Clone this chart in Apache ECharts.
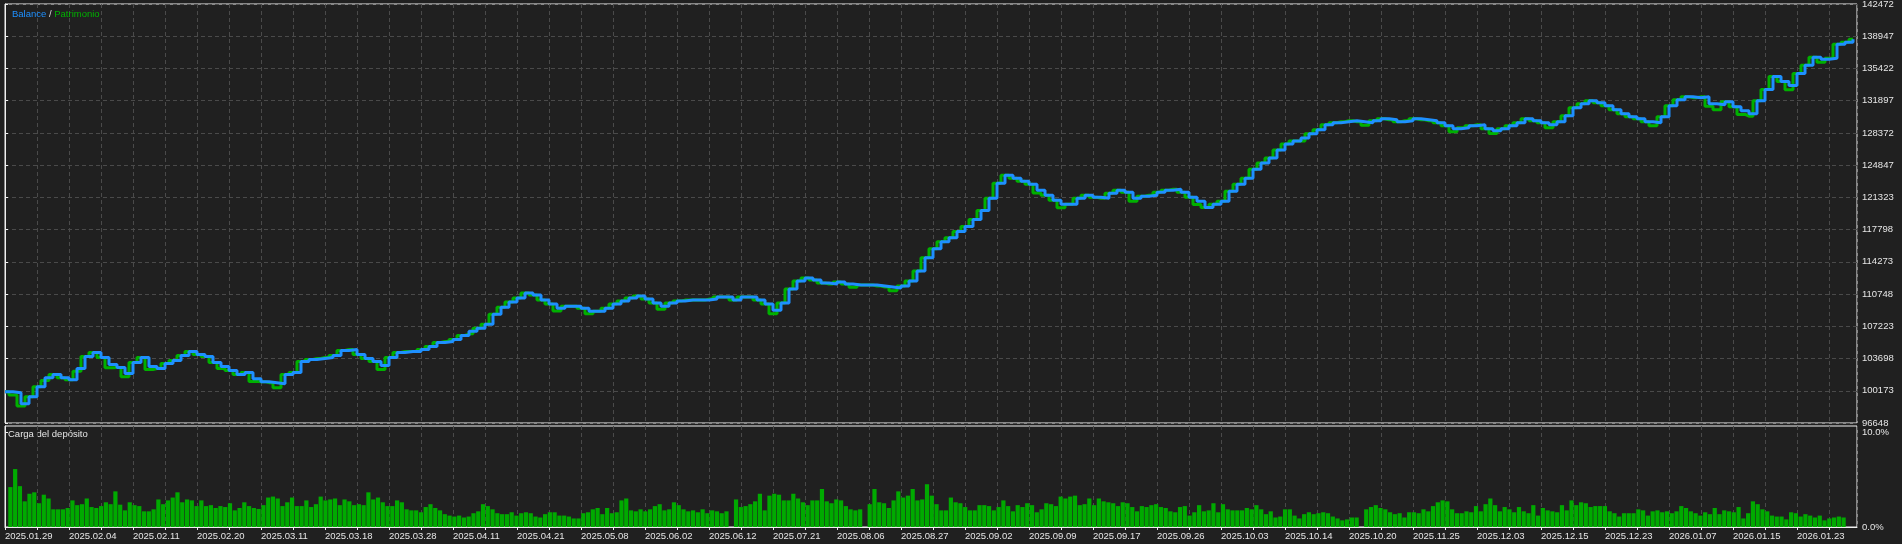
<!DOCTYPE html>
<html>
<head>
<meta charset="utf-8">
<script src="https://cdn.jsdelivr.net/npm/echarts@6.0.0/dist/echarts.min.js"></script>
<style>
html,body{margin:0;padding:0;background:#202020;}
#chart{width:1902px;height:544px;}
</style>
</head>
<body>
<div id="chart"></div>
<script>
// ---------- DATA ----------
const dateLabels = ['2025.01.29','2025.02.04','2025.02.11','2025.02.20','2025.03.11','2025.03.18','2025.03.28','2025.04.11','2025.04.21','2025.05.08','2025.06.02','2025.06.12','2025.07.21','2025.08.06','2025.08.27','2025.09.02','2025.09.09','2025.09.17','2025.09.26','2025.10.03','2025.10.14','2025.10.20','2025.11.25','2025.12.03','2025.12.15','2025.12.23','2026.01.07','2026.01.15','2026.01.23'];

const yTickLabels = ['96648','100173','103698','107223','110748','114273','117798','121323','124847','128372','131897','135422','138947','142472'];
const loadTickLabels = ['0.0%','10.0%'];

const balance = [100060,99950,98740,99510,100610,101610,101940,101610,101390,102600,
103920,104360,103810,103040,102710,102050,103260,103810,102820,102600,
103150,103480,104030,104470,104140,103920,103260,102820,102380,101940,
102160,101500,101170,101060,100950,101940,102160,103370,103590,103700,
103810,104030,104580,104690,104140,103700,103370,102930,103810,104360,
104470,104470,104690,105020,105460,105570,105790,106230,106670,107000,
107440,108550,109320,109870,110310,110860,110640,110090,109650,109210,
109430,109430,109210,108880,108880,109210,109650,109980,110310,110530,
110200,109760,109430,109760,109980,110090,110090,110090,110200,110420,
110420,110090,110420,110420,110090,109650,108990,109760,111300,112180,
112510,112290,111960,111850,112070,111850,111740,111740,111740,111630,
111520,111410,111630,112180,113280,114720,115710,116480,116920,117580,
118130,118900,119900,121220,122870,123750,123420,123090,122760,122100,
121550,121000,120560,120560,121220,121550,121330,121220,121770,122100,
121880,121220,121440,121550,121880,122100,122210,121880,121330,120890,
120220,120560,120890,121990,122760,123420,124410,125070,125620,126500,
127160,127500,127830,128270,128720,129260,129480,129590,129700,129590,
129480,129700,129920,129810,129590,129700,129920,129810,129700,129480,
129150,128820,128930,129150,129260,128820,128600,128820,129150,129480,
129920,129700,129480,129260,129590,130250,131130,131570,131900,131680,
131350,130910,130470,130140,129920,129590,129480,130140,131350,132010,
132340,132230,132340,131570,131460,131790,131240,130800,130470,131900,
133110,134540,133990,133550,134870,135760,136640,136420,136530,138070,
138290,138620];

const equity = [100060,99700,98500,99510,100610,101300,101940,101610,101390,102300,
103920,104360,103810,102700,102710,101700,103260,103810,102500,102600,
103150,103480,104030,104470,104140,103920,103260,102600,102380,101940,
102160,101200,101170,101060,100500,101940,102160,103370,103590,103700,
103810,104030,104580,104690,104140,103700,103370,102500,103810,104360,
104470,104470,104690,105020,105460,105570,105790,106230,106400,107000,
107440,108550,109320,109870,110310,110860,110640,110090,109650,108900,
109430,109430,109210,108600,108880,109210,109650,109980,110310,110530,
110200,109760,109100,109760,109980,110090,110090,110090,110200,110420,
110420,110090,110420,110420,110090,109650,108600,109760,111300,112180,
112510,112290,111960,111850,112070,111850,111500,111740,111740,111630,
111520,111100,111630,112180,113280,114720,115710,116480,116920,117580,
118130,118900,119900,121220,122870,123750,123420,123090,122760,121800,
121550,121000,120200,120560,121220,121550,121330,121220,121770,122100,
121880,120900,121440,121550,121880,122100,122210,121880,121330,120550,
120220,120560,120890,121990,122760,123420,124410,125070,125620,126500,
127160,127500,127500,128270,128720,129260,129480,129590,129700,129590,
129200,129700,129920,129810,129590,129700,129920,129810,129700,129480,
129150,128500,128930,129150,129260,128820,128300,128820,129150,129480,
129920,129700,129480,128950,129590,130250,131130,131570,131900,131680,
131350,130910,130470,130140,129920,129590,129150,130140,131350,132010,
132340,132230,132340,131300,130900,131790,131240,130400,130200,131900,
133110,134540,133990,133100,134870,135760,136640,136100,136530,138070,
138290,138620];

const depositLoad = [
4.2,6.1,4.3,2.7,3.5,3.65,2.5,3.4,3.0,1.86,1.86,1.86,2.0,2.8,2.3,2.4,3.0,2.1,2.0,2.2,
2.6,2.4,3.75,2.35,1.75,2.6,2.3,2.2,1.65,1.65,1.86,2.9,2.4,2.8,3.1,3.65,2.6,2.9,2.8,2.2,
2.8,2.2,2.3,2.0,2.2,2.1,2.5,1.75,2.0,2.6,2.2,2.0,1.9,2.3,3.1,3.2,3.0,2.2,2.6,3.1,
2.2,2.2,2.8,2.1,2.4,3.2,2.8,2.9,3.0,2.3,2.9,2.7,2.3,2.4,2.3,3.65,2.9,3.1,2.6,2.2,
2.2,2.8,2.6,1.86,1.75,1.75,1.55,2.1,2.4,2.0,1.75,1.35,1.2,1.1,1.2,1.0,1.1,
1.45,1.65,2.4,2.2,1.86,1.45,1.35,1.35,1.55,1.2,1.45,1.55,1.45,1.1,1.0,1.35,1.55,1.55,1.2,1.2,
1.1,0.9,0.9,1.45,1.55,1.86,2.0,1.35,2.0,1.45,1.55,2.8,3.0,1.75,1.65,1.86,1.65,1.86,2.2,2.4,
1.75,1.86,2.6,2.3,1.86,1.65,1.75,1.55,1.86,1.45,1.75,1.65,1.45,1.65,0,2.9,2.1,2.2,2.4,2.7,
3.5,1.75,3.3,3.5,3.4,2.8,2.8,3.5,3.0,2.6,2.3,2.8,2.8,4.0,2.7,2.5,2.9,2.8,2.2,1.86,
1.75,1.86,0,2.4,4.0,2.6,2.5,2.0,2.8,3.75,3.1,3.3,4.0,2.8,2.9,4.5,3.3,2.4,
1.75,1.75,3.1,2.6,2.5,2.1,1.75,1.75,2.3,2.3,2.2,1.75,2.1,2.8,2.2,1.65,2.3,2.1,2.5,2.3,
1.55,1.86,2.5,2.4,2.2,3.2,3.0,3.2,3.3,2.3,2.4,3.0,2.3,3.0,2.7,2.6,2.5,2.2,2.6,2.5,
2.1,1.65,2.2,2.1,2.3,2.4,2.1,2.0,1.65,1.55,2.1,2.2,1.2,1.55,2.3,1.65,1.75,2.5,1.55,2.4,
1.86,1.75,1.75,1.75,2.0,1.86,2.3,1.86,1.35,1.65,1.0,1.1,1.86,1.86,1.2,0.9,1.35,1.55,1.35,1.45,
1.55,1.45,1.1,0.9,0.7,0.8,1.0,1.0,0,1.86,2.1,2.3,2.0,1.86,1.55,1.35,1.45,
1.0,1.55,1.55,1.45,1.86,1.65,2.2,2.6,2.8,2.7,1.86,1.45,1.45,1.65,1.55,2.2,1.65,2.4,3.0,2.3,
1.65,2.1,1.86,1.55,2.1,1.65,1.45,2.3,1.2,2.0,1.75,1.65,1.55,2.3,1.75,2.8,2.3,2.6,2.5,2.1,
2.2,2.2,2.2,1.65,1.45,1.1,1.45,1.45,1.45,1.86,1.75,1.2,1.65,1.75,1.55,1.65,1.45,1.65,2.2,2.0,
1.65,1.45,1.2,1.55,1.35,2.0,1.35,1.75,1.65,1.55,2.1,0.9,1.45,2.7,2.4,1.86,1.65,1.2,1.1,1.1,
0.8,1.55,1.45,1.1,1.35,1.2,1.0,1.2,0.7,0.9,1.0,1.1,1.0];

// ---------- CHART ----------
const yMin = 96648, yMax = 142472, yStep = (yMax - yMin) / 13;
const loadMax = 10.63;
const gridCols = 57.875;

const FONT = 'Liberation Sans, Arial, sans-serif';
const FS = 9.5;
const TXT = '#e6e6e6';
const GRIDC = '#4a4a4a';
const dash = {color: GRIDC, type: [4, 3], width: 1};

const chart = echarts.init(document.getElementById('chart'), null, {renderer: 'canvas'});

const yLabelBase = {color: TXT, fontFamily: FONT, fontSize: FS, margin: 5, inside: false, align: 'left', verticalAlign: 'middle', hideOverlap: false};

const option = {
  animation: false,
  backgroundColor: '#202020',
  title: {
    left: 7, top: 4,
    text: '{b|Balance} {s|/} {p|Patrimonio}',
    textStyle: {
      fontFamily: FONT, fontSize: FS, fontWeight: 'normal',
      rich: {
        b: {color: '#1e90ff', fontFamily: FONT, fontSize: FS},
        s: {color: '#dcdcdc', fontFamily: FONT, fontSize: FS},
        p: {color: '#00b000', fontFamily: FONT, fontSize: FS}
      }
    }
  },
  graphic: [{
    type: 'text', left: 8, top: 429,
    style: {text: 'Carga del depósito', fill: TXT, font: FS + 'px ' + FONT}
  }],
  grid: [
    {left: 5, right: 45, top: 4, height: 419, show: true, borderColor: '#f0f0f0', borderWidth: 1, backgroundColor: 'transparent', containLabel: false, outerBoundsMode: 'none'},
    {left: 5, right: 45, top: 426, bottom: 17, show: true, borderColor: '#f0f0f0', borderWidth: 1, backgroundColor: 'transparent', containLabel: false, outerBoundsMode: 'none'},
    {left: 5, right: 49, top: 4, height: 419, containLabel: false, outerBoundsMode: 'none'},
    {left: 8, right: 56, top: 426, bottom: 17, containLabel: false, outerBoundsMode: 'none'}
  ],
  xAxis: [
    {gridIndex: 0, type: 'value', min: 0, max: gridCols, interval: 1,
     axisLine: {show: false}, axisTick: {show: false}, axisLabel: {show: false},
     splitLine: {show: true, lineStyle: dash}},
    {gridIndex: 1, type: 'value', min: 0, max: gridCols, interval: 1,
     axisLine: {show: true, onZero: false, lineStyle: {color: '#f0f0f0', width: 1}},
     axisTick: {show: true, length: 3, lineStyle: {color: '#f0f0f0'}},
     axisLabel: {show: true, color: TXT, fontFamily: FONT, fontSize: FS, align: 'left', verticalAlign: 'top', margin: 4,
       showMinLabel: true, showMaxLabel: false, hideOverlap: false,
       formatter: function (v) { const k = Math.round(v); return (k % 2 === 0 && dateLabels[k / 2]) ? dateLabels[k / 2] : ''; }},
     splitLine: {show: true, lineStyle: dash}},
    {gridIndex: 2, type: 'category', boundaryGap: false, data: balance.map((_, i) => i), show: false},
    {gridIndex: 3, type: 'category', boundaryGap: true, data: depositLoad.map((_, i) => i), show: false}
  ],
  yAxis: [
    {gridIndex: 0, type: 'value', position: 'right', min: yMin, max: yMax, interval: yStep,
     axisLine: {show: true, lineStyle: {color: '#f0f0f0'}},
     axisTick: {show: true, inside: false, length: 3, lineStyle: {color: '#f0f0f0'}},
     axisLabel: Object.assign({}, yLabelBase, {showMinLabel: true, showMaxLabel: true,
       formatter: function (v) { return yTickLabels[Math.round((v - yMin) / yStep)] || ''; }}),
     splitLine: {show: true, lineStyle: dash}},
    {gridIndex: 1, type: 'value', position: 'right', min: 0, max: loadMax, interval: 10,
     axisLine: {show: true, lineStyle: {color: '#f0f0f0'}},
     axisTick: {show: true, inside: false, length: 3, lineStyle: {color: '#f0f0f0'}},
     axisLabel: Object.assign({}, yLabelBase, {showMinLabel: true, showMaxLabel: false,
       formatter: function (v) { const k = Math.round(v / 10); return loadTickLabels[k] || ''; }}),
     splitLine: {show: false}},
    {gridIndex: 2, type: 'value', min: yMin, max: yMax, show: false, splitLine: {show: false}},
    {gridIndex: 3, type: 'value', min: 0, max: loadMax, show: false, splitLine: {show: false}}
  ],
  series: [
    {name: 'Patrimonio', type: 'line', xAxisIndex: 2, yAxisIndex: 2, data: equity,
     step: 'middle', showSymbol: false, lineStyle: {color: '#00b000', width: 3}, z: 3},
    {name: 'Balance', type: 'line', xAxisIndex: 2, yAxisIndex: 2, data: balance,
     step: 'end', showSymbol: false, lineStyle: {color: '#1e90ff', width: 3}, z: 4},
    {name: 'Carga del depósito', type: 'bar', xAxisIndex: 3, yAxisIndex: 3, data: depositLoad,
     barCategoryGap: '12%', itemStyle: {color: '#00aa00'}, z: 2}
  ]
};
chart.setOption(option);
</script>
</body>
</html>
